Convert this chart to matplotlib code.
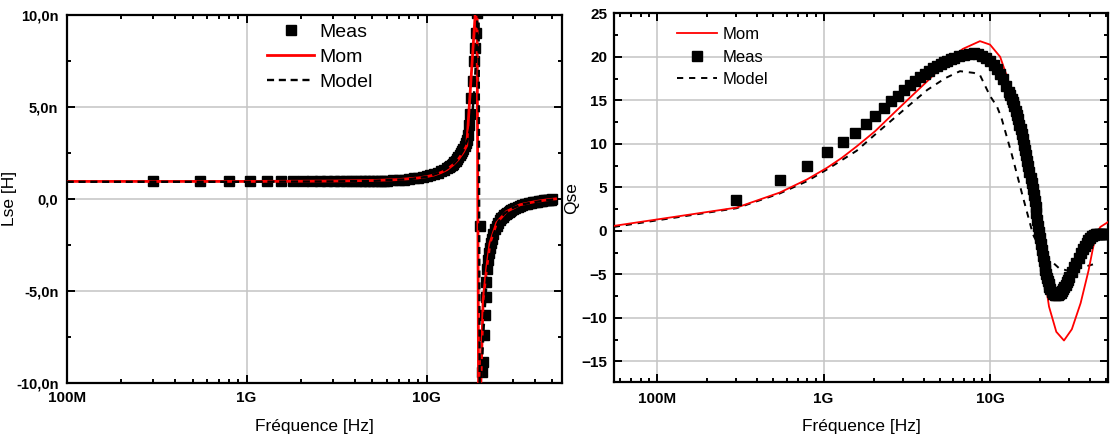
import numpy as np
import matplotlib
matplotlib.use("Agg")
import matplotlib.pyplot as plt
from matplotlib.ticker import FixedLocator, LogLocator, NullFormatter, MultipleLocator

plt.rcParams["font.family"] = ["Liberation Sans", "DejaVu Sans"]

# measured sweep, frequencies in GHz (shared by both panels)
meas_freq_ghz = [0.30, 0.55, 0.80, 1.05, 1.30, 1.55, 1.80, 2.05, 2.30, 2.55, 2.80, 3.05,
                 3.30, 3.55, 3.80, 4.05, 4.30, 4.55, 4.80, 5.05, 5.30, 5.55, 5.80, 6.05,
                 6.5, 7.0, 7.5, 8.0, 8.5, 9.0, 9.5, 10.0, 10.5, 11.0, 11.5, 12.0, 12.5,
                 13.0, 13.25, 13.5, 13.75, 14.0, 14.25, 14.5, 14.75, 15.0, 15.25, 15.5, 15.75,
                 16.0, 16.25, 16.5, 16.75, 17.0, 17.25, 17.5, 17.75, 18.0, 18.25, 18.5, 18.75,
                 19.0, 19.25, 19.5, 19.75, 20.0, 20.25, 20.5, 20.75, 21.0, 21.25, 21.5, 21.75,
                 22.0, 22.25, 22.5, 22.75, 23.0,
                 23.5, 24.0, 24.5, 25.0, 25.5, 26.0, 26.5, 27.0, 27.5, 28.0, 28.5, 29.0, 29.5, 30.0,
                 31, 32, 33, 34, 35, 36, 37, 38, 39, 40, 41, 42, 43, 44, 45, 46, 47, 48, 49, 50]

# Lse measured (nH)
lse_meas_nh = [0.95, 0.95, 0.95, 0.95, 0.95, 0.95, 0.95, 0.95, 0.95, 0.95, 0.95, 0.95,
               0.95, 0.95, 0.95, 0.96, 0.96, 0.96, 0.97, 0.97, 0.98, 0.98, 0.99, 0.99,
               1.01, 1.03, 1.05, 1.08, 1.11, 1.15, 1.19, 1.24, 1.29, 1.35, 1.42, 1.50, 1.59,
               1.66, 1.72, 1.78, 1.85, 1.92, 2.00, 2.08, 2.18, 2.28, 2.38, 2.49, 2.61,
               2.74, 2.88, 3.03, 3.22, 3.50, 4.00, 4.60, 5.50, 6.40, 7.50, 8.20, 9.00,
               10.1, 16.0, 30.0, -1.5, -11.0, -9.4, -8.9, -7.4, -6.3, -5.35, -4.5, -3.8,
               -3.3, -2.95, -2.65, -2.4, -2.2,
               -1.9, -1.65, -1.45, -1.3, -1.17, -1.06, -0.97, -0.89, -0.82, -0.76, -0.7, -0.65, -0.6, -0.56,
               -0.49, -0.43, -0.38, -0.34, -0.3, -0.27, -0.24, -0.21, -0.19, -0.17, -0.15, -0.13,
               -0.11, -0.1, -0.08, -0.07, -0.06, -0.05, -0.04, -0.03]

# Qse measured
qse_meas = [3.55, 5.8, 7.45, 9.05, 10.2, 11.25, 12.3, 13.25, 14.15, 14.9, 15.5, 16.15,
            16.75, 17.25, 17.7, 18.05, 18.4, 18.7, 18.95, 19.15, 19.35, 19.55, 19.7, 19.85,
            20.05, 20.2, 20.35, 20.4, 20.35, 20.15, 19.85, 19.5, 19.1, 18.6, 18.0, 17.4, 16.7,
            16.0, 15.6, 15.2, 14.75, 14.3, 13.8, 13.3, 12.8, 12.2, 11.65, 11.1, 10.5,
            9.9, 9.3, 8.7, 8.05, 7.4, 6.75, 6.1, 5.45, 4.8, 4.1, 3.4, 2.7,
            2.0, 1.3, 0.6, -0.1, -0.8, -1.5, -2.2, -2.85, -3.45, -4.0, -4.5, -5.0,
            -5.4, -5.8, -6.15, -6.45, -6.7,
            -7.05, -7.25, -7.38, -7.42, -7.4, -7.3, -7.15, -6.95, -6.7, -6.45, -6.2, -5.9, -5.6, -5.3,
            -4.75, -4.2, -3.65, -3.1, -2.6, -2.1, -1.7, -1.35, -1.05, -0.8, -0.6, -0.48,
            -0.4, -0.37, -0.35, -0.35, -0.35, -0.35, -0.35, -0.35]

# left panel: MoM simulation and model (nH)
mom_l_freq_ghz = [0.1, 0.5, 1, 2, 3, 5, 7, 9, 10, 11, 12, 13, 14, 15, 16, 16.7,
                  19.03, 19.5, 20.6, 21.5, 22.5, 24.5, 27.8, 33, 40, 46, 52]
lse_mom_nh = [0.95, 0.95, 0.95, 0.96, 0.97, 1.0, 1.05, 1.14, 1.21, 1.3, 1.43, 1.6, 1.85, 2.15, 2.55, 2.9,
              11.5, -14.0, -5.5, -3.84, -2.4, -1.3, -0.69, -0.32, -0.15, -0.06, 0.0]

model_l_freq_ghz = [0.1, 1, 3, 5, 8, 10, 12, 14, 15, 16, 17, 17.5, 18, 18.5, 19.0, 19.4,
                    19.75, 20.25, 20.75, 21.25, 21.75, 22.5, 23.5, 25, 27, 30, 34, 40, 46, 52]
lse_model_nh = [0.93, 0.93, 0.95, 0.98, 1.07, 1.2, 1.45, 1.87, 2.2, 2.65, 3.3, 3.9, 4.8, 6.2, 8.5, 14.0,
                -14.0, -9.2, -7.0, -5.3, -4.0, -2.8, -1.95, -1.25, -0.8, -0.5, -0.3, -0.17, -0.08, -0.02]

# right panel: MoM simulation and model
mom_q_freq_ghz = [0.055, 0.3, 0.546, 0.794, 1.05, 1.29, 1.58, 2.04, 2.6, 3.3, 4.2, 5.4, 6.85, 8.7, 10.0,
                  11.5, 12.6, 13.8, 15.6, 17.5, 19.2, 20.9, 22.6, 25.0, 27.8, 31.0, 35.0, 39.0, 41.5,
                  43.5, 46.0, 51.0]
qse_mom = [0.57, 2.67, 4.4, 5.9, 7.25, 8.4, 9.7, 11.45, 13.4, 15.3, 17.2, 19.3, 20.9, 21.8, 21.4,
           20.0, 17.8, 15.3, 12.5, 7.2, 1.6, -4.4, -8.7, -11.6, -12.6, -11.3, -8.3, -4.6, -2.0,
           -0.3, 0.45, 1.0]

model_q_freq_ghz = [0.055, 0.3, 0.546, 0.794, 1.05, 1.58, 2.04, 2.6, 3.3, 4.2, 5.4, 6.6, 8.0, 8.7, 10.0,
                    11.0, 11.7, 13.5, 15.6, 18.1, 20.5, 23.4, 26.0, 29.0, 32.0, 36.0, 41.5]
qse_model = [0.45, 2.6, 4.3, 5.7, 7.06, 9.2, 11.07, 12.8, 14.5, 16.2, 17.56, 18.35, 18.15, 17.9, 15.5,
             14.3, 13.0, 8.8, 4.2, -0.4, -2.5, -3.5, -4.3, -4.55, -4.5, -4.2, -3.85]

freq_ticks = [1e8, 1e9, 1e10]
freq_tick_labels = ["100M", "1G", "10G"]
lse_ticks = [-10, -5, 0, 5, 10]
lse_tick_labels = ["-10,0n", "-5,0n", "0,0", "5,0n", "10,0n"]
qse_ticks = [-15, -10, -5, 0, 5, 10, 15, 20, 25]


def hz(values_ghz):
    return np.array(values_ghz) * 1e9


def style_axes(ax, xpad, ypad, xfs, yfs):
    ax.set_xscale("log")
    ax.xaxis.set_major_locator(FixedLocator(freq_ticks))
    ax.set_xticklabels(freq_tick_labels)
    ax.xaxis.set_minor_locator(LogLocator(base=10, subs=np.arange(2, 10) * 1.0, numticks=100))
    ax.xaxis.set_minor_formatter(NullFormatter())
    ax.yaxis.set_minor_locator(MultipleLocator(2.5))
    ax.tick_params(which="both", direction="in", top=True, right=True, width=1.4, colors="black")
    ax.tick_params(which="major", length=5.5)
    ax.tick_params(which="minor", length=3)
    ax.tick_params(axis="x", pad=xpad, labelsize=xfs)
    ax.tick_params(axis="y", pad=ypad, labelsize=yfs)
    for lab in ax.get_xticklabels() + ax.get_yticklabels():
        lab.set_fontweight("bold")
    ax.grid(True, which="major", color="#c4c4c4", linewidth=1.1)
    for sp in ax.spines.values():
        sp.set_linewidth(1.6)


fig = plt.figure(figsize=(11.1, 4.36), dpi=100)

# left: Lse
ax1 = fig.add_axes([0.0601, 0.1222, 0.4462, 0.8433])
h_meas, = ax1.plot(hz(meas_freq_ghz), lse_meas_nh, ls="none", marker="s", ms=6.5,
                   color="black", zorder=3, label="Meas")
h_mom, = ax1.plot(hz(mom_l_freq_ghz), lse_mom_nh, color="#ff0000", lw=2.0, zorder=4, label="Mom")
h_model, = ax1.plot(hz(model_l_freq_ghz), lse_model_nh, color="black", lw=1.7,
                    ls=(0, (3, 2)), zorder=5, label="Model")
ax1.set_xlim(1e8, 5.65e10)
ax1.set_ylim(-10, 10)
ax1.set_yticks(lse_ticks)
ax1.set_yticklabels(lse_tick_labels)
style_axes(ax1, 6, 6, 11, 10.5)
ax1.set_xlabel("Fréquence [Hz]", fontsize=12.5)
ax1.set_ylabel("Lse [H]", fontsize=12.5)
ax1.xaxis.set_label_coords(0.5, -0.1)
ax1.yaxis.set_label_coords(-0.1, 0.5)
ax1.legend([h_meas, h_mom, h_model], ["Meas", "Mom", "Model"], loc="upper left",
           bbox_to_anchor=(0.405, 0.978), frameon=False, fontsize=14, handlelength=2.4,
           handletextpad=0.3, labelspacing=0.38, borderpad=0, borderaxespad=0)

# right: Qse
ax2 = fig.add_axes([0.5532, 0.1232, 0.4450, 0.8463])
h_model2, = ax2.plot(hz(model_q_freq_ghz), qse_model, color="black", lw=1.4,
                     ls=(0, (3.2, 3)), zorder=2, label="Model")
h_mom2, = ax2.plot(hz(mom_q_freq_ghz), qse_mom, color="#ff0000", lw=1.3, zorder=3, label="Mom")
h_meas2, = ax2.plot(hz(meas_freq_ghz), qse_meas, ls="none", marker="s", ms=6.8,
                    color="black", zorder=4, label="Meas")
ax2.set_xlim(5.52e7, 5.11e10)
ax2.set_ylim(-17.4, 25)
ax2.set_yticks(qse_ticks)
style_axes(ax2, 7, 5, 11, 11)
ax2.set_xlabel("Fréquence [Hz]", fontsize=12.5)
ax2.set_ylabel("Qse", fontsize=12.5)
ax2.xaxis.set_label_coords(0.5, -0.1)
ax2.yaxis.set_label_coords(-0.071, 0.5)
ax2.legend([h_mom2, h_meas2, h_model2], ["Mom", "Meas", "Model"], loc="upper left",
           bbox_to_anchor=(0.127, 0.962), frameon=False, fontsize=12, handlelength=2.4,
           handletextpad=0.35, labelspacing=0.45, borderpad=0, borderaxespad=0)

fig.savefig("out.png", dpi=100)
